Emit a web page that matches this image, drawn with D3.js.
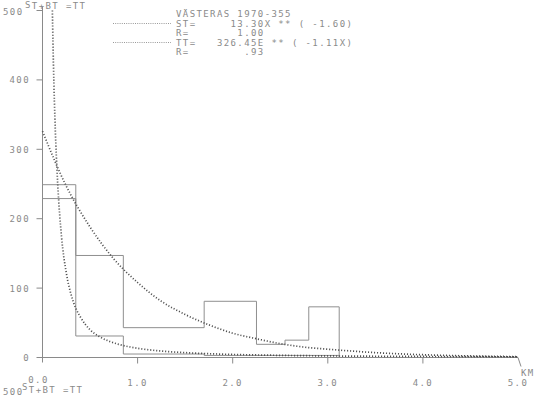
<!DOCTYPE html>
<meta charset="utf-8">
<head>
    <title>Vasteras ST+BT=TT</title>
    <script src="https://cdn.jsdelivr.net/npm/d3@7"></script>
</head>

<style>
    body { margin: 0; background: #fff; }
    text {
        font-family: "DejaVu Sans Mono", monospace;
        font-size: 9px;
        letter-spacing: 1.4px;
        fill: #8a8a8a;
        white-space: pre;
    }
    .axis line, .axis path { stroke: #8a8a8a; stroke-width: 1; fill: none; }
    .step { stroke: #8f8f8f; stroke-width: 1; fill: none; }
    .fit { stroke: #505050; stroke-width: 1.7; stroke-dasharray: 1.1 1.9; fill: none; }
    .leg { stroke: #999; stroke-width: 1; stroke-dasharray: 1 1.2; }
</style>

<svg>
    <g></g>
</svg>

<script>
    // size of the page
    var vWidth = 537;
    var vHeight = 396;

    // histogram, TT (upper steps)
    var ttEdges = [0, 0.35, 0.85, 1.70, 2.25, 2.55, 2.80, 3.12];
    var ttValues = [249, 147, 43, 81, 19, 25, 73];
    // histogram, ST (lower steps)
    var stEdges = [0, 0.35, 0.85, 1.70, 3.12];
    var stValues = [229, 31, 5, 3];

    // fitted curves
    var ttCurveX = [0, 0.25, 0.5, 0.75, 1.0, 1.25, 1.5, 1.75, 2.0, 2.25, 2.5, 2.75, 3.0, 3.5, 4.0, 4.5, 5.0];
    var ttCurveY = [326, 247, 188, 142, 108, 81, 62, 47, 35, 27, 20, 15, 12, 7, 4, 2.2, 1.3];
    var stCurveX = [0.104, 0.11, 0.12, 0.14, 0.16, 0.18, 0.2, 0.25, 0.3, 0.35, 0.4, 0.5, 0.6, 0.7, 0.8, 1.0, 1.25, 1.5, 2.0, 2.5, 3.0, 4.0, 5.0];
    var stCurveY = [500, 455, 395, 309, 250, 207, 174, 122, 91, 71, 58, 40, 30, 23.5, 19, 13.3, 9.3, 7, 4.4, 3.1, 2.3, 1.5, 1.0];

    // ticks and texts
    var xTicks = [0, 1, 2, 3, 4, 5];
    var xTickLabels = ["0.0", "1.0", "2.0", "3.0", "4.0", "5.0"];
    var yTicks = [0, 100, 200, 300, 400, 500];
    var legendLines = [
        "VÄSTERAS 1970-355",
        "ST=     13.30X ** ( -1.60)",
        "R=       1.00",
        "TT=   326.45E ** ( -1.11X)",
        "R=        .93"
    ];

    var svg = d3.select('svg')
        .attr('width', vWidth)
        .attr('height', vHeight);
    var g = d3.select('svg g');

    var x = d3.scaleLinear().domain([0, 5]).range([42.5, 518]);
    var y = d3.scaleLinear().domain([0, 500]).range([357.5, 10.5]);

    // axes drawn like the plotter did them
    var yAxis = g.append('g').attr('class', 'axis');
    yAxis.append('line')
        .attr('x1', x(0)).attr('x2', x(0))
        .attr('y1', y(0) + 5).attr('y2', y(500) - 4);
    yAxis.selectAll('.tk').data(yTicks).enter()
        .append('line')
        .attr('x1', x(0) - 6).attr('x2', x(0))
        .attr('y1', function (d) { return y(d); })
        .attr('y2', function (d) { return y(d); });
    yAxis.selectAll('text').data(yTicks.slice(0, 5)).enter()
        .append('text')
        .attr('x', 30)
        .attr('y', function (d) { return y(d) + 3.5; })
        .attr('text-anchor', 'end')
        .text(function (d) { return d; });

    var xAxis = g.append('g').attr('class', 'axis');
    xAxis.append('line')
        .attr('x1', x(0)).attr('x2', x(5))
        .attr('y1', y(0)).attr('y2', y(0));
    xAxis.append('line')
        .attr('x1', x(5)).attr('x2', x(5) + 3)
        .attr('y1', y(0)).attr('y2', y(0) + 9);
    xAxis.selectAll('.tk').data(xTicks.slice(1, 5)).enter()
        .append('line')
        .attr('x1', function (d) { return x(d); })
        .attr('x2', function (d) { return x(d); })
        .attr('y1', y(0)).attr('y2', y(0) + 6);
    xAxis.selectAll('text').data(xTicks).enter()
        .append('text')
        .attr('x', function (d) { return d === 0 ? x(d) - 4 : x(d); })
        .attr('y', function (d) { return d === 0 ? 383 : 386; })
        .attr('text-anchor', 'middle')
        .text(function (d, i) { return xTickLabels[i]; });
    g.append('text').attr('x', 521).attr('y', 376).text('KM');

    // step outlines
    function steps(edges, vals) {
        var pts = [[edges[0], vals[0]]];
        vals.forEach(function (v, i) {
            pts.push([edges[i], v]);
            pts.push([edges[i + 1], v]);
        });
        pts.push([edges[edges.length - 1], 0]);
        return pts;
    }
    var stepLine = d3.line()
        .x(function (d) { return x(d[0]); })
        .y(function (d) { return y(d[1]); });
    g.append('path').attr('class', 'step').attr('d', stepLine(steps(ttEdges, ttValues)));
    g.append('path').attr('class', 'step').attr('d', stepLine(steps(stEdges, stValues)));

    // dotted fits
    var curve = d3.line()
        .x(function (d) { return x(d[0]); })
        .y(function (d) { return y(d[1]); })
        .curve(d3.curveMonotoneX);
    g.append('path').attr('class', 'fit')
        .attr('d', curve(d3.zip(ttCurveX, ttCurveY)));
    g.append('path').attr('class', 'fit')
        .attr('d', curve(d3.zip(stCurveX, stCurveY)));

    // legend
    var lg = g.append('g');
    lg.selectAll('text').data(legendLines).enter()
        .append('text')
        .attr('x', 176)
        .attr('y', function (d, i) { return 17 + i * 9.5; })
        .text(function (d) { return d; });
    lg.selectAll('line').data([1, 3]).enter()
        .append('line').attr('class', 'leg')
        .attr('x1', 113).attr('x2', 171)
        .attr('y1', function (d) { return 14 + d * 9.5; })
        .attr('y2', function (d) { return 14 + d * 9.5; });

    // titles at top and bottom
    g.append('text').attr('x', 3).attr('y', 15).text('500');
    var t1 = g.append('text').attr('x', 25).attr('y', 9);
    t1.append('tspan').attr('dy', -1).text('S');
    t1.append('tspan').attr('dy', 1).text('T+BT =TT');
    g.append('text').attr('x', 3).attr('y', 395).text('500');
    var t2 = g.append('text').attr('x', 22).attr('y', 393);
    t2.append('tspan').attr('dy', -3).text('S');
    t2.append('tspan').attr('dy', 3).text('T+BT =TT');
</script>
